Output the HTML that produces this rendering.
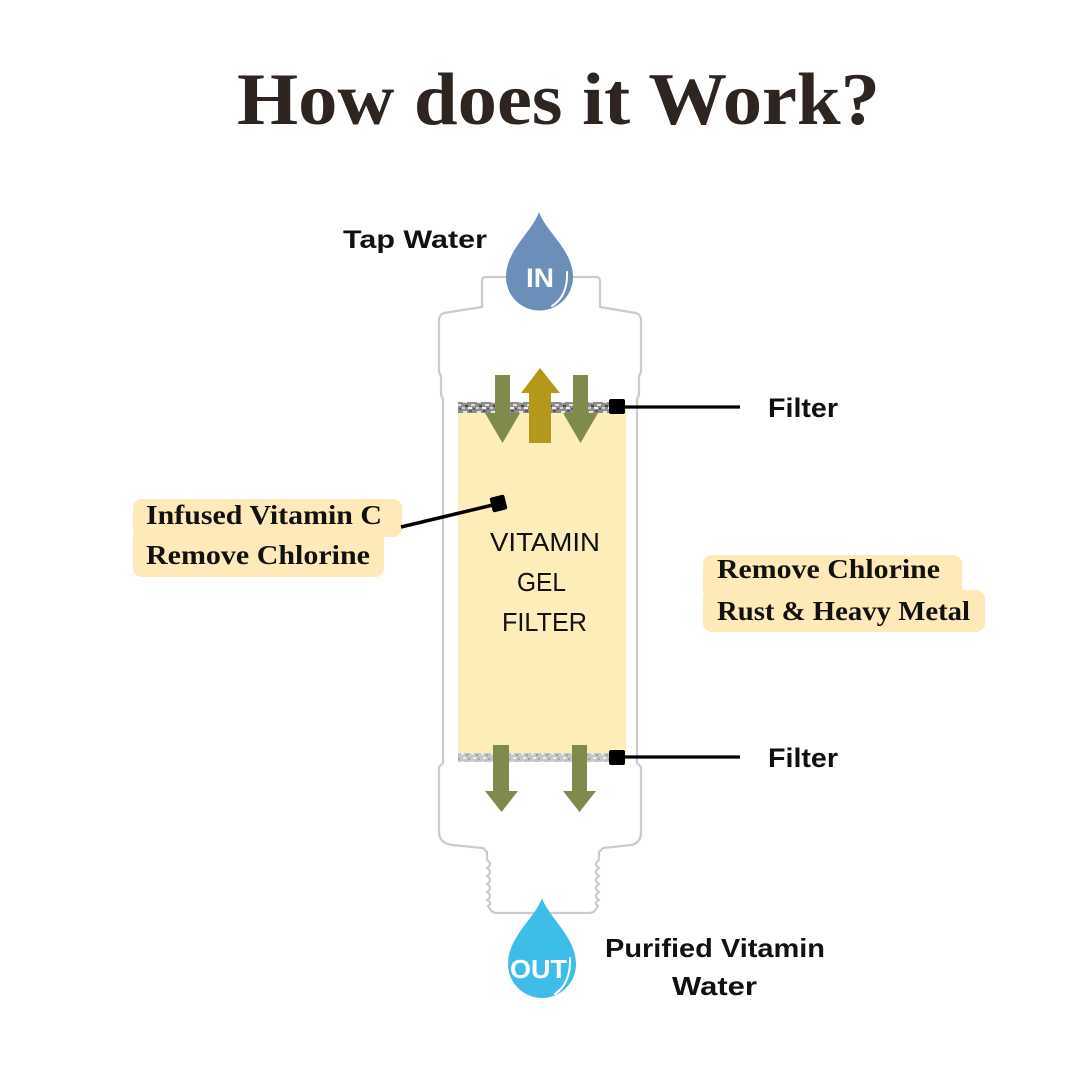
<!DOCTYPE html>
<html>
<head>
<meta charset="utf-8">
<style>
  html, body { margin:0; padding:0; background:#ffffff; }
  body { width:1080px; height:1080px; overflow:hidden; }
  svg { display:block; }
</style>
</head>
<body>
<svg width="1080" height="1080" viewBox="0 0 1080 1080" xmlns="http://www.w3.org/2000/svg">
  <defs>
    <pattern id="spk1" x="0" y="0" width="14" height="10" patternUnits="userSpaceOnUse">
      <rect width="14" height="10" fill="#8e8e8e"/>
      <rect x="1" y="1" width="4" height="2" fill="#e6e6e6"/>
      <rect x="7" y="0" width="3" height="2" fill="#555"/>
      <rect x="9" y="4" width="4" height="2" fill="#dcdcdc"/>
      <rect x="3" y="5" width="3" height="2" fill="#4a4a4a"/>
      <rect x="0" y="7" width="3" height="2" fill="#d0d0d0"/>
      <rect x="6" y="7" width="4" height="2" fill="#f0f0f0"/>
      <rect x="11" y="8" width="2" height="2" fill="#606060"/>
    </pattern>
    <pattern id="spk2" x="0" y="0" width="10" height="8" patternUnits="userSpaceOnUse">
      <rect width="10" height="8" fill="#c6c6c6"/>
      <rect x="1" y="1" width="3" height="2" fill="#e8e8e8"/>
      <rect x="6" y="2" width="2" height="2" fill="#9a9a9a"/>
      <rect x="3" y="5" width="3" height="2" fill="#efefef"/>
      <rect x="8" y="6" width="2" height="2" fill="#a5a5a5"/>
    </pattern>
  </defs>

  <!-- Title -->
  <text x="237" y="124" font-family="'Liberation Serif', serif" font-weight="bold" font-size="74" fill="#2e2420" textLength="643" lengthAdjust="spacingAndGlyphs">How does it Work?</text>

  <!-- Cartridge outline -->
  <path d="M 482 307 L 482 281 Q 482 277 486 277 L 596 277 Q 600 277 600 281 L 600 307
           L 636 313 Q 641 315 641 320 L 641 372 L 639 376 L 639 395 L 637 399 L 637 763
           L 641 767 L 641 832 Q 641 843 631 845 L 603 848 L 599 852 L 599 860
           Q 593 864 599 868 Q 593 872 599 876 Q 593 880 599 884 Q 593 888 599 892 Q 593 896 599 900 Q 593 903 598 906
           L 596 909 Q 594 913 589 913 L 497 913 Q 492 913 490 909 L 488 906
           Q 493 903 487 900 Q 493 896 487 892 Q 493 888 487 884 Q 493 880 487 876 Q 493 872 487 868 Q 493 864 487 860
           L 487 852 L 483 848 L 452 845 Q 439 843 439 832 L 439 767 L 443 763 L 443 399 L 441 395 L 441 376 L 439 372 L 439 320 Q 439 315 444 313 Z"
        fill="#ffffff" stroke="#c9cbce" stroke-width="2.2" stroke-linejoin="round"/>

  <!-- Yellow gel -->
  <rect x="458" y="403" width="168" height="359" fill="#fdedb9"/>
  <!-- filter strips -->
  <rect x="458" y="402" width="154" height="11" fill="url(#spk1)"/>
  <rect x="458" y="753" width="154" height="9" fill="url(#spk2)"/>

  <!-- Arrows top -->
  <polygon points="495,375 510,375 510,413 520,413 502.5,443 485,413 495,413" fill="#7f8a4d"/>
  <polygon points="573,375 588,375 588,413 598,413 580.5,443 563,413 573,413" fill="#7f8a4d"/>
  <polygon points="529,443 551,443 551,393 560,393 540,368 521,393 529,393" fill="#b3981c"/>
  <!-- Arrows bottom -->
  <polygon points="493,745 509,745 509,791 518,791 501.5,812 485,791 493,791" fill="#7f8a4d"/>
  <polygon points="572,745 587,745 587,791 596,791 579.5,812 563,791 572,791" fill="#7f8a4d"/>

  <!-- Gel text -->
  <g font-family="'Liberation Sans', sans-serif" font-size="26" fill="#111">
    <text x="490" y="551" textLength="110" lengthAdjust="spacingAndGlyphs">VITAMIN</text>
    <text x="517" y="591" textLength="49" lengthAdjust="spacingAndGlyphs">GEL</text>
    <text x="502" y="631" textLength="85" lengthAdjust="spacingAndGlyphs">FILTER</text>
  </g>

  <!-- IN drop -->
  <path d="M 539 212 C 546 232, 573 250, 573 277 A 33.5 33.5 0 1 1 506 277 C 506 250, 532 232, 539 212 Z" fill="#6b8fb8"/>
  <path d="M 567 272 Q 568 296 552 306" fill="none" stroke="#ffffff" stroke-width="2" stroke-linecap="round"/>
  <text x="526" y="287" font-family="'Liberation Sans', sans-serif" font-weight="bold" font-size="27" fill="#ffffff" textLength="28" lengthAdjust="spacingAndGlyphs">IN</text>

  <!-- OUT drop -->
  <path d="M 542 898 C 549 918, 576 937, 576 964 A 34 34 0 1 1 508 964 C 508 937, 535 918, 542 898 Z" fill="#3fbde9"/>
  <path d="M 570 958 Q 571 983 555 994" fill="none" stroke="#ffffff" stroke-width="2" stroke-linecap="round"/>
  <text x="510" y="978" font-family="'Liberation Sans', sans-serif" font-weight="bold" font-size="26" fill="#ffffff" textLength="57" lengthAdjust="spacingAndGlyphs">OUT</text>

  <!-- Filter connectors -->
  <line x1="618" y1="407" x2="740" y2="407" stroke="#000" stroke-width="3.2"/>
  <rect x="609" y="399" width="16" height="15" rx="2" fill="#000"/>
  <line x1="618" y1="757" x2="740" y2="757" stroke="#000" stroke-width="3.2"/>
  <rect x="609" y="750" width="16" height="15" rx="2" fill="#000"/>

  <g font-family="'Liberation Sans', sans-serif" font-weight="bold" fill="#111">
    <text x="768" y="417" font-size="27" textLength="70" lengthAdjust="spacingAndGlyphs">Filter</text>
    <text x="768" y="767" font-size="27" textLength="70" lengthAdjust="spacingAndGlyphs">Filter</text>
    <text x="343" y="248" font-size="25" textLength="144" lengthAdjust="spacingAndGlyphs">Tap Water</text>
    <text x="605" y="957" font-size="26" textLength="220" lengthAdjust="spacingAndGlyphs">Purified Vitamin</text>
    <text x="672" y="995" font-size="26" textLength="85" lengthAdjust="spacingAndGlyphs">Water</text>
  </g>

  <!-- Left callout -->
  <rect x="133" y="499" width="269" height="38" rx="9" fill="#fdeab8"/>
  <rect x="133" y="526" width="251" height="51" rx="9" fill="#fdeab8"/>
  <line x1="401" y1="527" x2="497" y2="504" stroke="#000" stroke-width="3.5"/>
  <rect x="491" y="496" width="15" height="15" rx="2" fill="#000" transform="rotate(-14 498.5 503.5)"/>
  <g font-family="'Liberation Serif', serif" font-weight="bold" font-size="27" fill="#111">
    <text x="146" y="524" textLength="236" lengthAdjust="spacingAndGlyphs">Infused Vitamin C</text>
    <text x="146" y="564" textLength="224" lengthAdjust="spacingAndGlyphs">Remove Chlorine</text>
  </g>

  <!-- Right callout -->
  <rect x="703" y="555" width="259" height="44" rx="9" fill="#fdeab8"/>
  <rect x="703" y="590" width="282" height="42" rx="9" fill="#fdeab8"/>
  <g font-family="'Liberation Serif', serif" font-weight="bold" font-size="27" fill="#111">
    <text x="717" y="578" textLength="223" lengthAdjust="spacingAndGlyphs">Remove Chlorine</text>
    <text x="717" y="620" textLength="253" lengthAdjust="spacingAndGlyphs">Rust &amp; Heavy Metal</text>
  </g>
</svg>
</body>
</html>
